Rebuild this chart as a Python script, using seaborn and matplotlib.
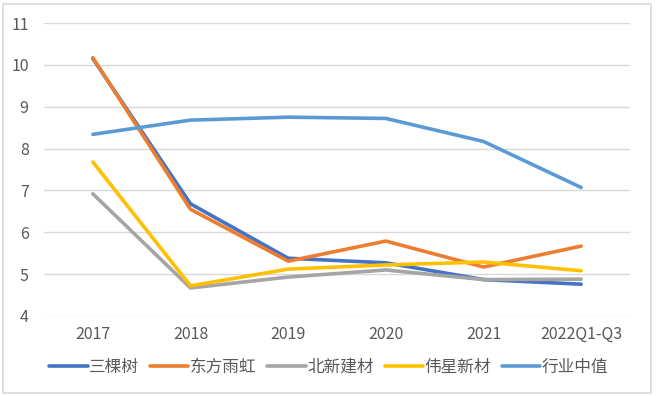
import matplotlib
matplotlib.use("Agg")
import matplotlib.pyplot as plt
import seaborn as sns
import pandas as pd
from matplotlib.patches import Rectangle

categories = ["2017", "2018", "2019", "2020", "2021", "2022Q1-Q3"]
s_sanke = [10.15, 6.68, 5.38, 5.27, 4.87, 4.76]
s_dfyh = [10.17, 6.55, 5.31, 5.79, 5.17, 5.67]
s_bxjc = [6.92, 4.67, 4.93, 5.10, 4.87, 4.88]
s_wxxc = [7.68, 4.72, 5.12, 5.22, 5.29, 5.08]
s_hyzz = [8.34, 8.68, 8.75, 8.72, 8.17, 7.07]
series_names = ["三棵树", "东方雨虹", "北新建材", "伟星新材", "行业中值"]
colors = ["#4472C4", "#ED7D31", "#A5A5A5", "#FFC000", "#5B9BD5"]

sns.set_theme(style="white")
plt.rcParams['font.family'] = ['Noto Sans CJK SC', 'DejaVu Sans']

rows = []
for name, vals in zip(series_names, [s_sanke, s_dfyh, s_bxjc, s_wxxc, s_hyzz]):
    for i, (c, v) in enumerate(zip(categories, vals)):
        rows.append({"x": i, "cat": c, "value": v, "series": name})
df = pd.DataFrame(rows)

fig = plt.figure(figsize=(6.56, 3.96), dpi=100)
ax = fig.add_axes([44/656, 1-316/396, (630-44)/656, (316-23)/396])

sns.lineplot(data=df, x="x", y="value", hue="series", palette=colors,
             hue_order=series_names, linewidth=2.6, ax=ax, legend=True,
             solid_capstyle="round")

ax.set_xlim(-0.5, len(categories) - 0.5)
ax.set_ylim(4, 11)
ax.set_yticks(range(4, 12))
ax.set_xticks(range(len(categories)))
ax.set_xticklabels(categories)
ax.set_xlabel("")
ax.set_ylabel("")
for s in ax.spines.values():
    s.set_visible(False)
ax.yaxis.grid(True, color="#D9D9D9", linewidth=1)
ax.set_axisbelow(True)
ax.tick_params(axis="both", colors="#595959", labelsize=11.5, length=0, pad=7)
ax.tick_params(axis="y", pad=11)

handles, labels = ax.get_legend_handles_labels()
ax.legend(handles, labels, loc="center", bbox_to_anchor=(0.486, (316-367)/(316-23)),
          ncol=5, frameon=False, fontsize=12, handlelength=2.3,
          columnspacing=0.65, handletextpad=0.1, labelcolor="#595959")

fig.patches.append(Rectangle((3/656, 3/396), 648/656, 389/396, transform=fig.transFigure,
                             fill=False, edgecolor="#D9D9D9", linewidth=1.2))

fig.savefig("out.png", dpi=100)
